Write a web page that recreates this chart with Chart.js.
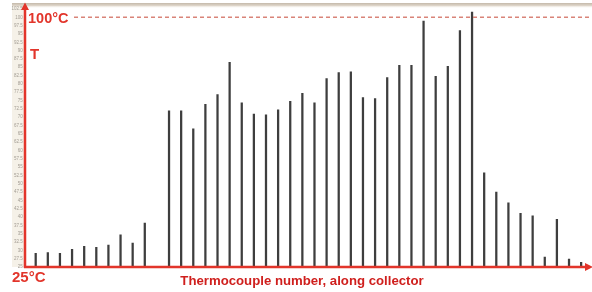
<!DOCTYPE html>
<html>
<head>
<meta charset="utf-8">
<script src="https://cdn.jsdelivr.net/npm/chart.js@4/dist/chart.umd.min.js"></script>
<style>
  html, body { margin: 0; padding: 0; background: #fff; }
  #wrap { width: 592px; height: 292px; }
</style>
</head>
<body>
<div id="wrap"><canvas id="c" width="592" height="292"></canvas></div>
<script>
// thermocouple positions along the collector
const categories = ['1','2','3','4','5','6','7','8','9','10','11','12','13','14','15','16',
  '17','18','19','20','21','22','23','24','25','26','27','28','29','30','31','32','33',
  '34','35','36','37','38','39','40','41','42','43','44','45','46'];

// temperature read at each thermocouple (°C), #11 has no reading
const temps = [29.1, 29.3, 29.1, 30.3, 31.2, 30.9, 31.6, 34.7, 32.2, 38.2,
  null, 71.9, 71.9, 66.5, 73.9, 76.8, 86.5, 74.3, 70.9, 70.7,
  72.2, 74.8, 77.2, 74.3, 81.6, 83.4, 83.6, 75.9, 75.6, 81.9,
  85.6, 85.6, 98.9, 82.3, 85.3, 96.0, 101.6, 53.3, 47.5, 44.3,
  41.1, 40.4, 28, 39.3, 27.4, 26.4];

// small gray labels next to the T axis
const yTicks = [25, 27.5, 30, 32.5, 35, 37.5, 40, 42.5, 45, 47.5, 50, 52.5, 55, 57.5,
  60, 62.5, 65, 67.5, 70, 72.5, 75, 77.5, 80, 82.5, 85, 87.5, 90, 92.5, 95, 97.5,
  100, 102.5];

const RED = '#e2352b';
const AXIS_X = 25;

const decor = {
  id: 'decor',
  beforeDraw(chart) {
    const { ctx, chartArea } = chart;
    ctx.save();
    ctx.fillStyle = '#fff';
    ctx.fillRect(0, 0, chart.width, chart.height);
    // label strip behind the tiny tick numbers
    ctx.fillStyle = '#f5f1e8';
    ctx.fillRect(12, 3, AXIS_X - 12, chartArea.bottom - 3);
    // photo edge along the top
    const g = ctx.createLinearGradient(0, 3, 0, 8);
    g.addColorStop(0, '#c4b9aa');
    g.addColorStop(0.5, '#ddd4c8');
    g.addColorStop(1, 'rgba(245,240,232,0)');
    ctx.fillStyle = g;
    ctx.fillRect(12, 3, chart.width - 12, 5);
    ctx.restore();
  },
  afterDraw(chart) {
    const { ctx, scales } = chart;
    const y0 = scales.y.getPixelForValue(25);
    const y100 = scales.y.getPixelForValue(100);
    ctx.save();

    // dashed 100 °C line
    ctx.strokeStyle = '#d98479';
    ctx.lineWidth = 1.5;
    ctx.setLineDash([4, 3]);
    ctx.beginPath();
    ctx.moveTo(74, y100);
    ctx.lineTo(chart.width, y100);
    ctx.stroke();
    ctx.setLineDash([]);

    // axes with arrow heads
    ctx.strokeStyle = RED;
    ctx.fillStyle = RED;
    ctx.lineWidth = 2.5;
    ctx.beginPath();
    ctx.moveTo(AXIS_X, y0 + 1);
    ctx.lineTo(AXIS_X, 8);
    ctx.moveTo(AXIS_X - 1, y0);
    ctx.lineTo(587, y0);
    ctx.stroke();
    ctx.beginPath();
    ctx.moveTo(AXIS_X, 2.5);
    ctx.lineTo(AXIS_X - 4, 10);
    ctx.lineTo(AXIS_X + 4, 10);
    ctx.closePath();
    ctx.fill();
    ctx.beginPath();
    ctx.moveTo(593, y0);
    ctx.lineTo(585, y0 - 4);
    ctx.lineTo(585, y0 + 4);
    ctx.closePath();
    ctx.fill();

    // labels
    ctx.font = 'bold 14.5px "Liberation Sans", Arial, sans-serif';
    ctx.textBaseline = 'alphabetic';
    ctx.textAlign = 'left';
    ctx.fillText('100°C', 28, 23);
    ctx.font = 'bold 15px "Liberation Sans", Arial, sans-serif';
    ctx.fillText('T', 30, 59);
    ctx.fillText('25°C', 12, 282);
    ctx.fillStyle = '#cf1f1d';
    ctx.font = 'bold 13.2px "Liberation Sans", Arial, sans-serif';
    ctx.textAlign = 'center';
    ctx.fillText('Thermocouple number, along collector', 302, 285);
    ctx.restore();
  }
};

new Chart(document.getElementById('c'), {
  type: 'bar',
  data: {
    labels: categories,
    datasets: [{
      data: temps,
      backgroundColor: '#3e3e3e',
      barThickness: 1.6,
      borderWidth: 0
    }]
  },
  options: {
    responsive: false,
    animation: false,
    layout: { padding: { top: 4, right: 4.8, left: 0, bottom: 0 } },
    plugins: {
      legend: { display: false },
      tooltip: { enabled: false }
    },
    scales: {
      x: {
        grid: { display: false },
        border: { display: false },
        ticks: { display: false },
        afterFit(scale) { scale.height = 25; }
      },
      y: {
        min: 25,
        max: 104,
        grid: { display: false, drawTicks: false },
        border: { display: false },
        ticks: {
          color: '#a39d94',
          padding: 7,
          autoSkip: false,
          font: { size: 4.5, family: '"Liberation Sans", Arial, sans-serif' }
        },
        afterBuildTicks(scale) {
          scale.ticks = yTicks.map(v => ({ value: v }));
        },
        afterFit(scale) {
          scale.width = 29.64;
          scale.paddingTop = 0;
          scale.paddingBottom = 0;
        }
      }
    }
  },
  plugins: [decor]
});
</script>
</body>
</html>
